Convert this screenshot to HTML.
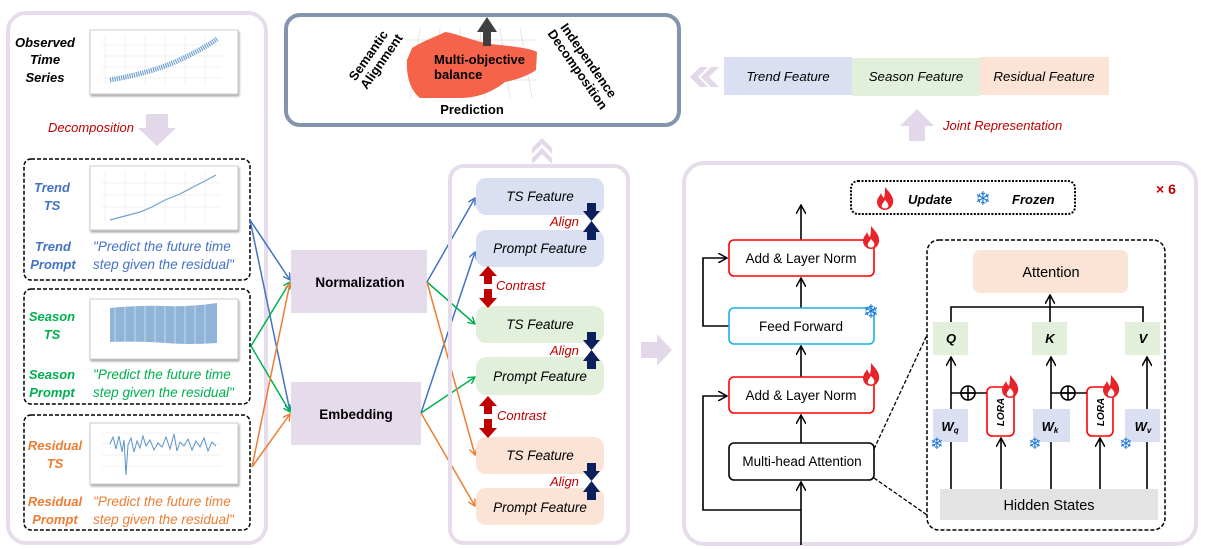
<!DOCTYPE html>
<html><head><meta charset="utf-8"><style>
html,body{margin:0;padding:0;background:#fff;}
svg{display:block;font-family:"Liberation Sans",sans-serif;}
</style></head><body>
<svg width="1207" height="549" viewBox="0 0 1207 549" xmlns="http://www.w3.org/2000/svg">
<defs>
<marker id="ab" markerWidth="8" markerHeight="8" refX="7" refY="4" orient="auto" markerUnits="userSpaceOnUse"><path d="M0,0 L7,4 L0,8" fill="none" stroke="#4472c4" stroke-width="1.4"/></marker>
<marker id="ag" markerWidth="8" markerHeight="8" refX="7" refY="4" orient="auto" markerUnits="userSpaceOnUse"><path d="M0,0 L7,4 L0,8" fill="none" stroke="#00b050" stroke-width="1.4"/></marker>
<marker id="ao" markerWidth="8" markerHeight="8" refX="7" refY="4" orient="auto" markerUnits="userSpaceOnUse"><path d="M0,0 L7,4 L0,8" fill="none" stroke="#ed7d31" stroke-width="1.4"/></marker>
<marker id="ak" markerWidth="10" markerHeight="10" refX="9" refY="5" orient="auto" markerUnits="userSpaceOnUse"><path d="M0,0 L9,5 L0,10" fill="none" stroke="#000" stroke-width="1.5"/></marker>
<g id="flame"><path d="M0,-12 C5,-6 9,-2 8,4 C7,9 3,11 0,11 C-4,11 -8,8 -8,3 C-8,-1 -5,-3 -4,-6 C-3,-3 -2,-2 -1,-1 C0,-5 0,-9 0,-12Z" fill="#e8232a"/><path d="M0,1 C3,4 4,6 3,8 C2,10 -2,10 -3,8 C-4,6 -2,4 0,1Z" fill="#fff"/></g>
</defs>

<!-- Left panel -->
<rect x="8" y="13" width="258" height="530" rx="18" fill="#fff" stroke="#e6dcec" stroke-width="4"/>
<g font-weight="bold" font-style="italic" font-size="13" text-anchor="middle">
<text x="45" y="47">Observed</text><text x="45" y="64">Time</text><text x="45" y="82">Series</text>
</g>
<g>
<rect x="90" y="30" width="148" height="64" fill="#fff" stroke="#ccc" stroke-width="1" style="filter:drop-shadow(1px 2px 1px #aaa)"/>
<g stroke="#e6e6e6" stroke-width="0.6"><line x1="105" y1="36" x2="105" y2="84"/><line x1="125" y1="36" x2="125" y2="84"/><line x1="145" y1="36" x2="145" y2="84"/><line x1="165" y1="36" x2="165" y2="84"/><line x1="185" y1="36" x2="185" y2="84"/><line x1="205" y1="36" x2="205" y2="84"/><line x1="102" y1="45" x2="222" y2="45"/><line x1="102" y1="56" x2="222" y2="56"/><line x1="102" y1="67" x2="222" y2="67"/><line x1="102" y1="78" x2="222" y2="78"/></g>
<path d="M110,80 Q150,73 175,62 T217,39" fill="none" stroke="#6fa0cf" stroke-width="5" stroke-dasharray="1.2 1"/>
</g>
<text x="91" y="132" font-size="13" font-style="italic" fill="#c00000" text-anchor="middle">Decomposition</text>
<path d="M146,114 L168,114 L168,128 L176,128 L157,146 L138,128 L146,128Z" fill="#e3d7ea"/>

<!-- Trend box -->
<rect x="24" y="159" width="226" height="121" rx="7" fill="none" stroke="#000" stroke-width="1.5" stroke-dasharray="4 2"/>
<g font-weight="bold" font-style="italic" font-size="13" text-anchor="middle" fill="#4472c4">
<text x="52" y="192">Trend</text><text x="52" y="210">TS</text><text x="53" y="251">Trend</text><text x="53" y="269">Prompt</text></g>
<g font-style="italic" font-size="13.6" fill="#4472c4"><text x="93" y="251">"Predict the future time</text><text x="93" y="269">step given the residual"</text></g>
<rect x="90" y="166" width="148" height="64" fill="#fff" stroke="#ccc" style="filter:drop-shadow(1px 2px 1px #aaa)"/>
<g stroke="#e6e6e6" stroke-width="0.6"><line x1="105" y1="172" x2="105" y2="222"/><line x1="125" y1="172" x2="125" y2="222"/><line x1="145" y1="172" x2="145" y2="222"/><line x1="165" y1="172" x2="165" y2="222"/><line x1="185" y1="172" x2="185" y2="222"/><line x1="205" y1="172" x2="205" y2="222"/><line x1="102" y1="183" x2="222" y2="183"/><line x1="102" y1="195" x2="222" y2="195"/><line x1="102" y1="207" x2="222" y2="207"/></g>
<polyline points="110,220 125,216 140,212 152,207 165,200 180,194 195,186 205,181 216,175" fill="none" stroke="#6fa0cf" stroke-width="1.2"/>

<!-- Season box -->
<rect x="24" y="289" width="226" height="115" rx="7" fill="none" stroke="#000" stroke-width="1.5" stroke-dasharray="4 2"/>
<g font-weight="bold" font-style="italic" font-size="13" text-anchor="middle" fill="#00b050">
<text x="52" y="321">Season</text><text x="52" y="339">TS</text><text x="52" y="379">Season</text><text x="52" y="397">Prompt</text></g>
<g font-style="italic" font-size="13.6" fill="#00b050"><text x="93" y="379">"Predict the future time</text><text x="93" y="397">step given the residual"</text></g>
<rect x="90" y="299" width="148" height="60" fill="#fff" stroke="#ccc" style="filter:drop-shadow(1px 2px 1px #aaa)"/>
<path d="M110,308 Q140,305 165,306 T217,303 L217,343 Q190,345 165,343 T110,342Z" fill="#8fb4d8"/>
<g stroke="#fff" stroke-width="0.8" opacity="0.6"><line x1="115" y1="304" x2="115" y2="346"/><line x1="125" y1="304" x2="125" y2="346"/><line x1="135" y1="304" x2="135" y2="346"/><line x1="145" y1="304" x2="145" y2="346"/><line x1="155" y1="304" x2="155" y2="346"/><line x1="165" y1="304" x2="165" y2="346"/><line x1="175" y1="304" x2="175" y2="346"/><line x1="185" y1="304" x2="185" y2="346"/><line x1="195" y1="304" x2="195" y2="346"/><line x1="205" y1="304" x2="205" y2="346"/></g>

<!-- Residual box -->
<rect x="24" y="415" width="226" height="115" rx="7" fill="none" stroke="#000" stroke-width="1.5" stroke-dasharray="4 2"/>
<g font-weight="bold" font-style="italic" font-size="13" text-anchor="middle" fill="#ed7d31">
<text x="55" y="450">Residual</text><text x="55" y="468">TS</text><text x="55" y="506">Residual</text><text x="55" y="524">Prompt</text></g>
<g font-style="italic" font-size="13.6" fill="#ed7d31"><text x="93" y="506">"Predict the future time</text><text x="93" y="524">step given the residual"</text></g>
<rect x="90" y="423" width="148" height="61" fill="#fff" stroke="#ccc" style="filter:drop-shadow(1px 2px 1px #aaa)"/>
<g stroke="#e6e6e6" stroke-width="0.6"><line x1="102" y1="433" x2="222" y2="433"/><line x1="102" y1="444" x2="222" y2="444"/><line x1="102" y1="455" x2="222" y2="455"/><line x1="102" y1="466" x2="222" y2="466"/></g>
<polyline points="110,444 113,437 116,449 119,436 122,452 124,440 126,475 128,445 131,438 134,452 137,441 140,448 143,436 146,446 150,440 154,450 158,443 162,447 166,437 170,449 174,434 177,451 180,442 184,446 188,439 192,450 196,441 200,447 204,438 208,451 212,442 216,446" fill="none" stroke="#5b95c9" stroke-width="1"/>

<!-- connectors left -->
<g fill="none" stroke-width="1.5">
<line x1="250" y1="220" x2="290" y2="280" stroke="#4472c4" marker-end="url(#ab)"/>
<line x1="250" y1="220" x2="290" y2="411" stroke="#4472c4" marker-end="url(#ab)"/>
<line x1="251" y1="346" x2="290" y2="282" stroke="#00b050" marker-end="url(#ag)"/>
<line x1="251" y1="346" x2="290" y2="412" stroke="#00b050" marker-end="url(#ag)"/>
<line x1="252" y1="467" x2="290" y2="283" stroke="#ed7d31" marker-end="url(#ao)"/>
<line x1="252" y1="467" x2="290" y2="414" stroke="#ed7d31" marker-end="url(#ao)"/>
</g>

<rect x="291" y="250" width="136" height="63" fill="#e6dbeb"/>
<text x="360" y="287" font-weight="bold" font-size="13.5" text-anchor="middle">Normalization</text>
<rect x="291" y="382" width="130" height="63" fill="#e6dbeb"/>
<text x="356" y="419" font-weight="bold" font-size="13.5" text-anchor="middle">Embedding</text>

<g fill="none" stroke-width="1.5">
<line x1="427" y1="282" x2="475" y2="198" stroke="#4472c4" marker-end="url(#ab)"/>
<line x1="421" y1="413" x2="475" y2="252" stroke="#4472c4" marker-end="url(#ab)"/>
<line x1="427" y1="282" x2="475" y2="324" stroke="#00b050" marker-end="url(#ag)"/>
<line x1="421" y1="413" x2="475" y2="377" stroke="#00b050" marker-end="url(#ag)"/>
<line x1="427" y1="282" x2="475" y2="455" stroke="#ed7d31" marker-end="url(#ao)"/>
<line x1="421" y1="413" x2="475" y2="506" stroke="#ed7d31" marker-end="url(#ao)"/>
</g>

<!-- middle panel -->
<rect x="450" y="166" width="178" height="377" rx="14" fill="none" stroke="#e6dcec" stroke-width="4"/>
<path d="M532,148 L542,138 L552,148 L552,154 L542,144 L532,154Z M532,158 L542,148 L552,158 L552,164 L542,154 L532,164Z" fill="#e3d7ea"/>
<g font-style="italic" font-size="13.5" text-anchor="middle">
<rect x="476" y="178" width="128" height="37" rx="10" fill="#dae0f2"/><text x="540" y="201">TS Feature</text>
<rect x="476" y="230" width="128" height="37" rx="10" fill="#dae0f2"/><text x="540" y="253">Prompt Feature</text>
<rect x="476" y="306" width="128" height="37" rx="10" fill="#e2efda"/><text x="540" y="329">TS Feature</text>
<rect x="476" y="357" width="128" height="38" rx="10" fill="#e2efda"/><text x="540" y="381">Prompt Feature</text>
<rect x="476" y="437" width="128" height="37" rx="10" fill="#fbe3d6"/><text x="540" y="460">TS Feature</text>
<rect x="476" y="488" width="128" height="37" rx="10" fill="#fbe3d6"/><text x="540" y="512">Prompt Feature</text>
</g>
<g font-style="italic" font-size="13" fill="#c00000">
<text x="550" y="226">Align</text><text x="550" y="355">Align</text><text x="550" y="486">Align</text>
<text x="496" y="290">Contrast</text><text x="497" y="420">Contrast</text>
</g>
<g fill="#0a1f5c">
<path d="M587,203 L596,203 L596,211 L600,211 L591.5,221 L583,211 L587,211Z M587,240 L596,240 L596,232 L600,232 L591.5,221 L583,232 L587,232Z"/>
<path d="M587,332 L596,332 L596,340 L600,340 L591.5,350 L583,340 L587,340Z M587,369 L596,369 L596,361 L600,361 L591.5,350 L583,361 L587,361Z"/>
<path d="M587,463 L596,463 L596,471 L600,471 L591.5,481 L583,471 L587,471Z M587,500 L596,500 L596,492 L600,492 L591.5,481 L583,492 L587,492Z"/>
</g>
<g fill="#c00000">
<path d="M484,284 L484,276 L479,276 L488,266 L497,276 L492,276 L492,284Z M484,289 L484,298 L479,298 L488,308 L497,298 L492,298 L492,289Z"/>
<path d="M484,414 L484,406 L479,406 L488,396 L497,406 L492,406 L492,414Z M484,419 L484,428 L479,428 L488,438 L497,428 L492,428 L492,419Z"/>
</g>

<path d="M641,342 L657,342 L657,334 L672,350 L657,366 L657,358 L641,358Z" fill="#e3d7ea"/>

<!-- Prediction box -->
<rect x="286" y="15" width="393" height="110" rx="14" fill="#fff" stroke="#8394ae" stroke-width="4"/>
<g stroke="#ddd" stroke-width="0.7"><line x1="405" y1="40" x2="537" y2="40"/><line x1="405" y1="60" x2="537" y2="60"/><line x1="405" y1="80" x2="537" y2="80"/><line x1="420" y1="28" x2="410" y2="98"/><line x1="440" y1="28" x2="435" y2="98"/><line x1="460" y1="28" x2="460" y2="98"/><line x1="480" y1="28" x2="485" y2="98"/><line x1="500" y1="28" x2="510" y2="98"/><line x1="520" y1="28" x2="532" y2="98"/></g>
<path d="M412,48 C425,40 440,35 445,32 C455,33 470,40 490,44 C510,46 530,48 537,52 L536,70 C528,76 515,80 505,82 C495,90 480,98 460,98 L420,98 C410,90 406,75 407,60Z" fill="#f4634a"/>
<path d="M483,46 L483,32 L477,32 L487,17 L497,32 L491,32 L491,46Z" fill="#404040"/>
<text x="434" y="64" font-weight="bold" font-size="13">Multi-objective</text>
<text x="434" y="79" font-weight="bold" font-size="13">balance</text>
<text x="472" y="114" font-weight="bold" font-size="13" text-anchor="middle">Prediction</text>
<g font-weight="bold" font-size="13" text-anchor="middle">
<text transform="translate(372,58) rotate(-55)">Semantic</text>
<text transform="translate(385,64) rotate(-55)">Alignment</text>
<text transform="translate(585,63) rotate(55)">Independence</text>
<text transform="translate(574,72) rotate(55)">Decomposition</text>
</g>

<!-- feature strip -->
<path d="M700,67 L690,77 L700,87 L708,87 L698,77 L708,67Z M711,67 L701,77 L711,87 L719,87 L709,77 L719,67Z" fill="#e3d7ea"/>
<rect x="724" y="57" width="128" height="38" fill="#dae0f2"/>
<rect x="852" y="58" width="128" height="38" fill="#e2efda"/>
<rect x="980" y="57" width="129" height="38" fill="#fbe3d6"/>
<g font-style="italic" font-size="13.3" text-anchor="middle"><text x="788" y="81">Trend Feature</text><text x="916" y="81">Season Feature</text><text x="1044" y="81">Residual Feature</text></g>
<path d="M909,141 L909,126 L900,126 L917,109 L934,126 L925,126 L925,141Z" fill="#e3d7ea"/>
<text x="943" y="130" font-style="italic" font-size="13" fill="#c00000">Joint Representation</text>

<!-- right panel -->
<rect x="684" y="163" width="512" height="381" rx="20" fill="none" stroke="#e6dcec" stroke-width="4"/>
<rect x="851" y="181" width="224" height="33" rx="7" fill="none" stroke="#000" stroke-width="2" stroke-dasharray="2 1.5"/>
<use href="#flame" x="885" y="199"/>
<text x="908" y="204" font-weight="bold" font-style="italic" font-size="13">Update</text>
<text x="983" y="205" font-size="19" fill="#1f78d1" text-anchor="middle" font-family="DejaVu Sans">❄</text>
<text x="1012" y="204" font-weight="bold" font-style="italic" font-size="13">Frozen</text>
<text x="1156" y="194" font-weight="bold" font-size="14" fill="#c00000">× 6</text>

<g fill="none" stroke="#000" stroke-width="1.6">
<line x1="801" y1="545" x2="801" y2="482" marker-end="url(#ak)"/>
<line x1="801" y1="443" x2="801" y2="415" marker-end="url(#ak)"/>
<line x1="801" y1="377" x2="801" y2="346" marker-end="url(#ak)"/>
<line x1="801" y1="308" x2="801" y2="278" marker-end="url(#ak)"/>
<line x1="801" y1="240" x2="801" y2="205" marker-end="url(#ak)"/>
<polyline points="801,510 703,510 703,396 727,396" marker-end="url(#ak)"/>
<polyline points="729,326 703,326 703,258 727,258" marker-end="url(#ak)"/>
</g>
<g font-size="13.5" text-anchor="middle">
<rect x="729" y="240" width="145" height="36" rx="5" fill="#fff" stroke="#ff0000" stroke-width="1.6"/><text x="801" y="263">Add &amp; Layer Norm</text>
<rect x="729" y="308" width="145" height="36" rx="5" fill="#fff" stroke="#1ab0e8" stroke-width="1.6"/><text x="801" y="331">Feed Forward</text>
<rect x="729" y="377" width="145" height="36" rx="5" fill="#fff" stroke="#ff0000" stroke-width="1.6"/><text x="801" y="400">Add &amp; Layer Norm</text>
<rect x="729" y="443" width="145" height="37" rx="5" fill="#fff" stroke="#000" stroke-width="1.6"/><text x="802" y="466">Multi-head Attention</text>
</g>
<use href="#flame" x="871" y="238"/>
<use href="#flame" x="871" y="375"/>
<text x="871" y="318" font-size="19" fill="#1f78d1" text-anchor="middle" font-family="DejaVu Sans">❄</text>

<!-- inset -->
<g fill="none" stroke="#000" stroke-width="1.3" stroke-dasharray="4 2">
<line x1="874" y1="449" x2="927" y2="335"/><line x1="874" y1="478" x2="927" y2="515"/>
<rect x="927" y="240" width="238" height="290" rx="12" stroke-width="1.5"/>
</g>
<rect x="973" y="250" width="155" height="43" rx="7" fill="#fbe3d6"/>
<text x="1051" y="277" font-size="14.5" text-anchor="middle">Attention</text>
<rect x="940" y="489" width="218" height="31" fill="#e3e3e3"/>
<text x="1049" y="510" font-size="14.5" text-anchor="middle">Hidden States</text>
<g fill="none" stroke="#000" stroke-width="1.6">
<polyline points="951,322 951,307 1143,307 1143,322"/>
<line x1="1050" y1="307" x2="1050" y2="295" marker-end="url(#ak)"/>
<line x1="1050" y1="307" x2="1050" y2="322"/>
<line x1="951" y1="489" x2="951" y2="357" marker-end="url(#ak)"/>
<line x1="1051" y1="489" x2="1051" y2="357" marker-end="url(#ak)"/>
<line x1="1147" y1="489" x2="1147" y2="357" marker-end="url(#ak)"/>
<line x1="1001" y1="489" x2="1001" y2="438" marker-end="url(#ak)"/>
<line x1="1100" y1="489" x2="1100" y2="438" marker-end="url(#ak)"/>
<line x1="951" y1="393" x2="987" y2="393"/>
<line x1="1051" y1="393" x2="1087" y2="393"/>
<circle cx="968" cy="393" r="7"/><line x1="961" y1="393" x2="975" y2="393"/><line x1="968" y1="386" x2="968" y2="400"/>
<circle cx="1068" cy="393" r="7"/><line x1="1061" y1="393" x2="1075" y2="393"/><line x1="1068" y1="386" x2="1068" y2="400"/>
</g>
<rect x="933" y="322" width="35" height="33" fill="#e2efda"/><rect x="1032" y="322" width="35" height="33" fill="#e2efda"/><rect x="1125" y="322" width="35" height="33" fill="#e2efda"/>
<g font-weight="bold" font-style="italic" font-size="13" text-anchor="middle"><text x="951" y="343">Q</text><text x="1050" y="343">K</text><text x="1143" y="343">V</text></g>
<rect x="933" y="409" width="35" height="33" fill="#dae0f2"/><rect x="1033" y="409" width="37" height="33" fill="#dae0f2"/><rect x="1125" y="409" width="35" height="33" fill="#dae0f2"/>
<g font-weight="bold" font-style="italic" font-size="13" text-anchor="middle"><text x="950" y="431">W<tspan font-size="8" dy="2">q</tspan></text><text x="1050" y="431">W<tspan font-size="8" dy="2">k</tspan></text><text x="1143" y="431">W<tspan font-size="8" dy="2">v</tspan></text></g>
<rect x="987" y="387" width="27" height="49" rx="5" fill="#fff" stroke="#ff0000" stroke-width="1.6"/>
<rect x="1087" y="387" width="26" height="49" rx="5" fill="#fff" stroke="#ff0000" stroke-width="1.6"/>
<g font-weight="bold" font-style="italic" font-size="10" text-anchor="middle"><text transform="translate(1004,412) rotate(-90)">LORA</text><text transform="translate(1104,412) rotate(-90)">LORA</text></g>
<use href="#flame" x="1010" y="387"/>
<use href="#flame" x="1111" y="387"/>
<g font-size="16" fill="#1f78d1" text-anchor="middle" font-family="DejaVu Sans"><text x="937" y="449">❄</text><text x="1035" y="449">❄</text><text x="1126" y="449">❄</text></g>
</svg>
</body></html>
